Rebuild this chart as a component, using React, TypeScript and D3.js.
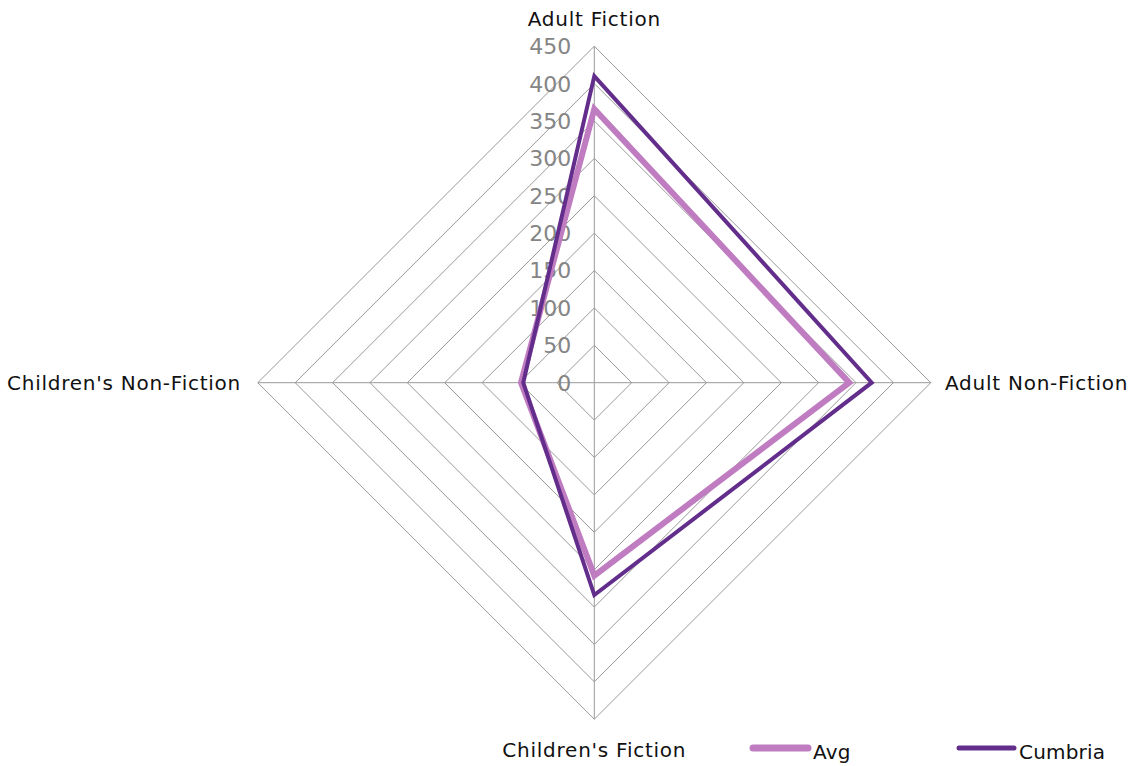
import React from "react";
import * as d3 from "d3";

const categories = ["Adult Fiction", "Adult Non-Fiction", "Children's Fiction", "Children's Non-Fiction"];
const avgValues = [366, 341, 258, 98];
const cumbriaValues = [410, 371, 284, 95];
const tickValues = [0, 50, 100, 150, 200, 250, 300, 350, 400, 450];
const seriesNames = ["Avg", "Cumbria"];
const seriesColors = ["#c07cc1", "#632d8c"];
const seriesWidths = [6, 4];

export default function App() {
  const W = 1134, H = 766;
  const cx = 594.3, cy = 382.7, R = 336.5;
  const r = d3.scaleLinear().domain([0, 450]).range([0, R]);
  const angle = (i: number) => (i * Math.PI * 2) / categories.length;
  const pt = (i: number, v: number): [number, number] => [
    cx + r(v) * Math.sin(angle(i)),
    cy - r(v) * Math.cos(angle(i)),
  ];
  const lineGen = d3.line<[number, number]>().curve(d3.curveLinearClosed);
  const font = "DejaVu Sans, Verdana, sans-serif";
  const series = [avgValues, cumbriaValues];
  const labelProps = { fontSize: 20, fontFamily: font, fill: "#111", letterSpacing: 0.75 };
  const legendX = [751, 957];

  return (
    <svg width={W} height={H} style={{ position: "absolute", left: 0, top: 0 }}>
      <rect width={W} height={H} fill="#fff" />
      {tickValues.slice(1).map((t) => (
        <path
          key={t}
          d={lineGen(categories.map((_, i) => pt(i, t))) || ""}
          fill="none"
          stroke="#999"
          strokeWidth={1}
        />
      ))}
      {categories.map((_, i) => {
        const [x, y] = pt(i, 450);
        return <line key={i} x1={cx} y1={cy} x2={x} y2={y} stroke="#999" strokeWidth={1} />;
      })}
      {tickValues.map((t) => (
        <text
          key={t}
          x={cx - 23}
          y={cy - r(t)}
          dy="0.36em"
          textAnchor="end"
          fill="#858585"
          fontSize={22}
          fontFamily={font}
        >
          {t}
        </text>
      ))}
      {series.map((vals, s) => (
        <path
          key={s}
          d={lineGen(vals.map((v, i) => pt(i, v))) || ""}
          fill="none"
          stroke={seriesColors[s]}
          strokeWidth={seriesWidths[s]}
          strokeLinejoin="miter"
        />
      ))}
      <text x={cx} y={26} textAnchor="middle" {...labelProps}>
        {categories[0]}
      </text>
      <text x={945} y={cy} dy="0.36em" textAnchor="start" {...labelProps}>
        {categories[1]}
      </text>
      <text x={cx} y={750} dy="0.36em" textAnchor="middle" {...labelProps}>
        {categories[2]}
      </text>
      <text x={241} y={cy} dy="0.36em" textAnchor="end" {...labelProps}>
        {categories[3]}
      </text>
      {seriesNames.map((name, s) => {
        const x0 = legendX[s];
        return (
          <g key={name}>
            <line x1={x0 + 2} y1={748} x2={x0 + 57} y2={748} stroke={seriesColors[s]} strokeWidth={seriesWidths[s] + 1} strokeLinecap="round" />
            <text x={x0 + 62} y={752} dy="0.36em" {...labelProps} letterSpacing={0.2}>
              {name}
            </text>
          </g>
        );
      })}
    </svg>
  );
}
